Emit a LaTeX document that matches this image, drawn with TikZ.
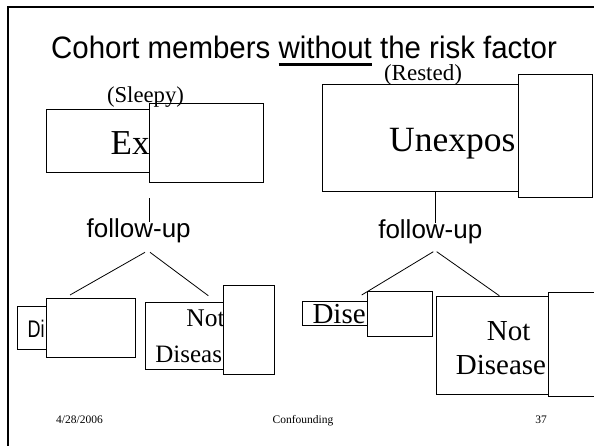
\documentclass[tikz,border=0pt]{standalone}
\usepackage{fontspec}
\setmainfont{Liberation Serif}
\newfontfamily\headsans[FakeStretch=0.95]{Liberation Sans}
\newfontfamily\labelsans{Liberation Sans}
\newfontfamily\narrowsans[FakeStretch=0.75]{Liberation Sans}
\newlength\ulwidth
\newcommand\thickunderline[1]{\settowidth\ulwidth{#1}\rlap{\smash{\rule[-7pt]{\ulwidth}{2.7pt}}}#1}

\begin{document}
\begin{tikzpicture}[x=1pt,y=-1pt,
  box/.style={draw=black, fill=white, line width=0.8pt, inner sep=0pt, anchor=north west},
  txt/.style={inner sep=0pt, anchor=base west},
  ctr/.style={inner sep=0pt, anchor=base},
  link/.style={draw=black, line width=0.8pt},
  fs/.style={font=\fontsize{#1}{#1}\selectfont}]
\useasboundingbox (0,0) rectangle (594,446);
\fill[white] (0,0) rectangle (594,446);

% slide frame
\draw[line width=2.7pt] (8,447) -- (8,7) -- (595,7);

% heading
\node[ctr, font=\headsans\fontsize{31}{31}\selectfont] (title) at (304,59)
  {Cohort members \thickunderline{without} the risk factor};

% ---- left cohort ----
\node[box, minimum width=184pt, minimum height=63pt] (exposed) at (46,109) {};
\node[txt, fs=35] (exposedtxt) at (110.5,154.3) {Ex};
\node[box, minimum width=113.7pt, minimum height=79pt] (coverA) at (149.3,103.3) {};
\node[ctr, fs=22.7] (sleepy) at (145.5,103) {(Sleepy)};

\node[ctr, font=\labelsans\fontsize{26}{26}\selectfont] (fuL) at (138.7,237.3) {follow-up};
\coordinate (fuLtop) at (149.3,198.3);
\coordinate (fuLin) at (149.3,221.7);
\coordinate (fuLa) at (145,252.3);
\coordinate (fuLb) at (150,252.3);
\coordinate (fuLa end) at (70,295);
\coordinate (fuLb end) at (208.3,295.7);
\draw[link] (fuLtop) -- (fuLin);
\draw[link] (fuLa) -- (fuLa end);
\draw[link] (fuLb) -- (fuLb end);

\node[box, minimum width=83.3pt, minimum height=43pt] (disL) at (16.7,306) {};
\node[txt, font=\narrowsans\fontsize{24}{24}\selectfont] (disLtxt) at (27.5,337.3) {Di};
\node[box, minimum width=89.3pt, minimum height=59.5pt] (coverC) at (45.7,297.8) {};

\node[box, minimum width=105pt, minimum height=67.6pt] (notL) at (145,301.7) {};
\node[txt, fs=25.5] (notLtxt) at (186.2,326.7) {Not};
\node[txt, fs=25] (notLtxt2) at (155.2,362) {Disease};
\node[box, minimum width=51.8pt, minimum height=89.3pt] (coverD) at (222.5,285) {};

% ---- right cohort ----
\node[box, minimum width=237.7pt, minimum height=106.7pt] (unexposed) at (322.3,84.3) {};
\node[txt, fs=35.5] (unexposedtxt) at (389,151.7) {Unexpos};
\node[box, minimum width=73.4pt, minimum height=123.3pt] (coverB) at (518.3,74) {};
\node[ctr, fs=23] (rested) at (423,81) {(Rested)};

\node[ctr, font=\labelsans\fontsize{26}{26}\selectfont] (fuR) at (430.3,238.3) {follow-up};
\coordinate (fuRtop) at (unexposed.south -| 435,0);
\coordinate (fuRin) at (435,223.3);
\coordinate (fuRa) at (433.3,251.7);
\coordinate (fuRb) at (436.7,251.7);
\coordinate (fuRa end) at (361.7,295);
\coordinate (fuRb end) at (499.3,295.7);
\draw[link] (fuRtop) -- (fuRin);
\draw[link] (fuRa) -- (fuRa end);
\draw[link] (fuRb) -- (fuRb end);

\node[box, minimum width=97.7pt, minimum height=24pt] (disR) at (302.3,301) {};
\node[txt, fs=29] (disRtxt) at (312.3,323.3) {Dise};
\node[box, minimum width=64.4pt, minimum height=45pt] (coverE) at (367.3,290.7) {};

\node[box, minimum width=139.3pt, minimum height=98.3pt] (notR) at (435.7,296) {};
\node[txt, fs=29] (notRtxt) at (486.7,340) {Not};
\node[txt, fs=29] (notRtxt2) at (455.7,374) {Disease};
\node[box, minimum width=45.2pt, minimum height=103.4pt] (coverF) at (548.3,292.3) {};

% footer
\node[ctr, fs=11.5] (date) at (79.5,423) {4/28/2006};
\node[ctr, fs=11.5] (topic) at (303,423) {Confounding};
\node[ctr, fs=11.5] (page) at (541,423) {37};
\end{tikzpicture}
\end{document}
